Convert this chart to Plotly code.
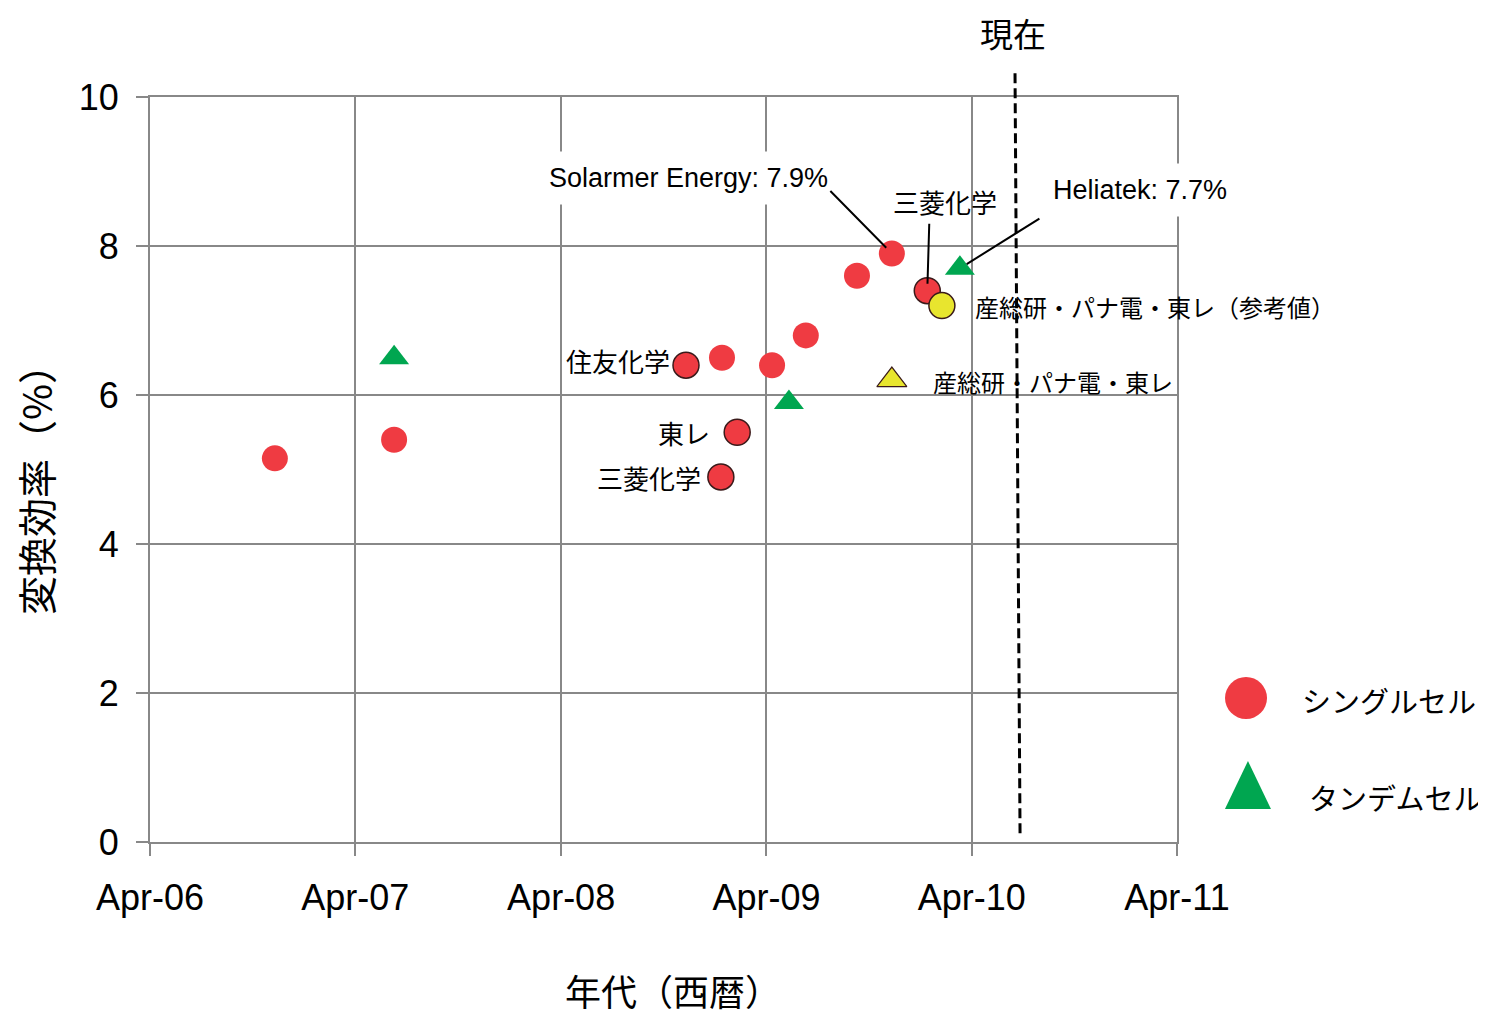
import plotly.graph_objects as go

# ---------------- data ----------------
x_tick_dates = ["2006-04-01", "2007-04-01", "2008-04-01", "2009-04-01", "2010-04-01", "2011-04-01"]
x_tick_labels = ["Apr-06", "Apr-07", "Apr-08", "Apr-09", "Apr-10", "Apr-11"]
y_tick_values = [0, 2, 4, 6, 8, 10]

# single cells reported overseas (red, no outline)
single_other_dates = ["2006-11-09", "2007-06-09", "2009-01-12", "2009-04-11", "2009-06-10", "2009-09-09", "2009-11-10"]
single_other_eff = [5.15, 5.4, 6.5, 6.4, 6.8, 7.6, 7.9]

# single cells reported by Japanese companies (red, outlined)
single_jp_names = ["住友化学", "東レ", "三菱化学", "三菱化学"]
single_jp_dates = ["2008-11-09", "2009-02-08", "2009-01-10", "2010-01-12"]
single_jp_eff = [6.4, 5.5, 4.9, 7.4]

# tandem cells (green)
tandem_dates = ["2007-06-09", "2009-05-11", "2010-03-11"]
tandem_eff = [6.5, 5.9, 7.7]

# AIST / Panasonic / Toray (yellow)
aist_single_dates = ["2010-02-07"]
aist_single_eff = [7.2]
aist_tandem_dates = ["2009-11-10"]
aist_tandem_eff = [6.2]

now_top = "2010-06-17"
now_bottom = "2010-06-26"

# ---------------- styles ----------------
RED = "#EF3B42"
GREEN = "#00A650"
YELLOW = "#E8E52E"
OUTLINE = "#3A1A1A"
GRID = "#888888"
JP = "Noto Sans CJK JP"
LAT = "Liberation Sans, Arial, sans-serif"

fig = go.Figure()

fig.add_trace(go.Scatter(x=single_other_dates, y=single_other_eff, mode="markers",
                         marker=dict(symbol="circle", size=26, color=RED, line=dict(width=0)),
                         showlegend=False, cliponaxis=False))
fig.add_trace(go.Scatter(x=single_jp_dates, y=single_jp_eff, mode="markers",
                         marker=dict(symbol="circle", size=26, color=RED, line=dict(width=1.5, color=OUTLINE)),
                         showlegend=False, cliponaxis=False))
fig.add_trace(go.Scatter(x=tandem_dates, y=tandem_eff, mode="markers",
                         marker=dict(symbol="triangle-up", size=26, color=GREEN, line=dict(width=0)),
                         showlegend=False, cliponaxis=False))
fig.add_trace(go.Scatter(x=aist_single_dates, y=aist_single_eff, mode="markers",
                         marker=dict(symbol="circle", size=26, color=YELLOW, line=dict(width=1.5, color=OUTLINE)),
                         showlegend=False, cliponaxis=False))
fig.add_trace(go.Scatter(x=aist_tandem_dates, y=aist_tandem_eff, mode="markers",
                         marker=dict(symbol="triangle-up", size=26, color=YELLOW, line=dict(width=1.2, color=OUTLINE)),
                         showlegend=False, cliponaxis=False))

annotations = []

def label(x, y, text, xshift, yshift, xanchor="center", font=JP, size=26, bg=None, pad=1):
    d = dict(x=x, y=y, xref="x", yref="y", text=text, showarrow=False,
             xshift=xshift, yshift=yshift, xanchor=xanchor, yanchor="middle",
             font=dict(family=font, size=size, color="black"), borderpad=pad)
    if bg:
        d["bgcolor"] = bg
    annotations.append(d)

def leader(x, y, ax, ay, standoff):
    annotations.append(dict(x=x, y=y, xref="x", yref="y", text=" ", showarrow=True,
                            ax=ax, ay=ay, arrowhead=0, arrowwidth=2, arrowcolor="black",
                            standoff=standoff, font=dict(size=1), borderpad=0))

def paper_text(x, y, text, size, xanchor="center", angle=0, xref="paper", xshift=0):
    annotations.append(dict(x=x, y=y, xref=xref, yref="paper", text=text, showarrow=False,
                            xanchor=xanchor, yanchor="middle", textangle=angle, xshift=xshift,
                            font=dict(family=JP, size=size, color="black")))

# labels
label(single_other_dates[6], single_other_eff[6], "Solarmer Energy: 7.9%", -203, 75,
      font=LAT, size=27, bg="white", pad=11)
label(tandem_dates[2], tandem_eff[2], "Heliatek: 7.7%", 180, 78, font=LAT, size=27, bg="white", pad=11)
label(single_jp_dates[3], single_jp_eff[3], single_jp_names[3], 18, 89)
label(single_jp_dates[0], single_jp_eff[0], single_jp_names[0], -14, 5, xanchor="right")
label(single_jp_dates[1], single_jp_eff[1], single_jp_names[1], -25, 0, xanchor="right")
label(single_jp_dates[2], single_jp_eff[2], single_jp_names[2], -18, -1, xanchor="right")
label(aist_single_dates[0], aist_single_eff[0], "産総研・パナ電・東レ（参考値）", 31, -1, xanchor="left", size=24)
label(aist_tandem_dates[0], aist_tandem_eff[0], "産総研・パナ電・東レ", 39, -1, xanchor="left", size=24)

# leaders
leader(single_other_dates[6], single_other_eff[6], -62, -63, 8)
leader(single_jp_dates[3], single_jp_eff[3], 2, -68, 7)
leader(tandem_dates[2], tandem_eff[2], 80, -50, 8)

# "now" label
paper_text(now_top, 1.086, "現在", 33, xref="x", xshift=-2)

# axis titles
paper_text(-0.112, 0.486, "変換効率（%）", 39, angle=-90)
paper_text(0.5034, -0.198, "年代（西暦）", 36, xshift=6)

# legend texts
paper_text(1.1198, 0.1906, "シングルセル", 29, xanchor="left")
paper_text(1.1266, 0.0604, "タンデムセル", 29, xanchor="left")

shapes = [
    dict(type="line", xref="x", yref="paper", x0=now_top, x1=now_bottom, y0=1.032, y1=0.005,
         line=dict(color="black", width=3, dash="10px,5px"), layer="above"),
    dict(type="circle", xref="paper", yref="paper", xsizemode="pixel", ysizemode="pixel",
         xanchor=1.0672, yanchor=0.1933, x0=-21, x1=21, y0=-21, y1=21,
         fillcolor=RED, line=dict(width=0)),
    dict(type="path", xref="paper", yref="paper", xsizemode="pixel", ysizemode="pixel",
         xanchor=1.0691, yanchor=0.0765, path="M-23,-24L23,-24L0,24Z",
         fillcolor=GREEN, line=dict(width=0)),
]

axis_common = dict(showgrid=True, gridcolor=GRID, gridwidth=2, ticks="outside", ticklen=12,
                   tickwidth=2, tickcolor=GRID, showline=True, linecolor=GRID, linewidth=2,
                   mirror=True, zeroline=False, tickfont=dict(family=LAT, size=36, color="black"))

# page body has an 8px margin, so the figure is 8px smaller than the window
fig.update_layout(
    width=1478, height=1008,
    margin=dict(l=142, r=309, t=89, b=174),
    plot_bgcolor="white", paper_bgcolor="white",
    xaxis=dict(type="date", range=[x_tick_dates[0], x_tick_dates[-1]], tickmode="array",
               tickvals=x_tick_dates, ticktext=x_tick_labels, ticklabelstandoff=11, **axis_common),
    yaxis=dict(range=[0, 10], tickmode="array", tickvals=y_tick_values, ticklabelstandoff=10,
               **axis_common),
    annotations=annotations,
    shapes=shapes,
    showlegend=False,
)

fig.write_html("out.html")
